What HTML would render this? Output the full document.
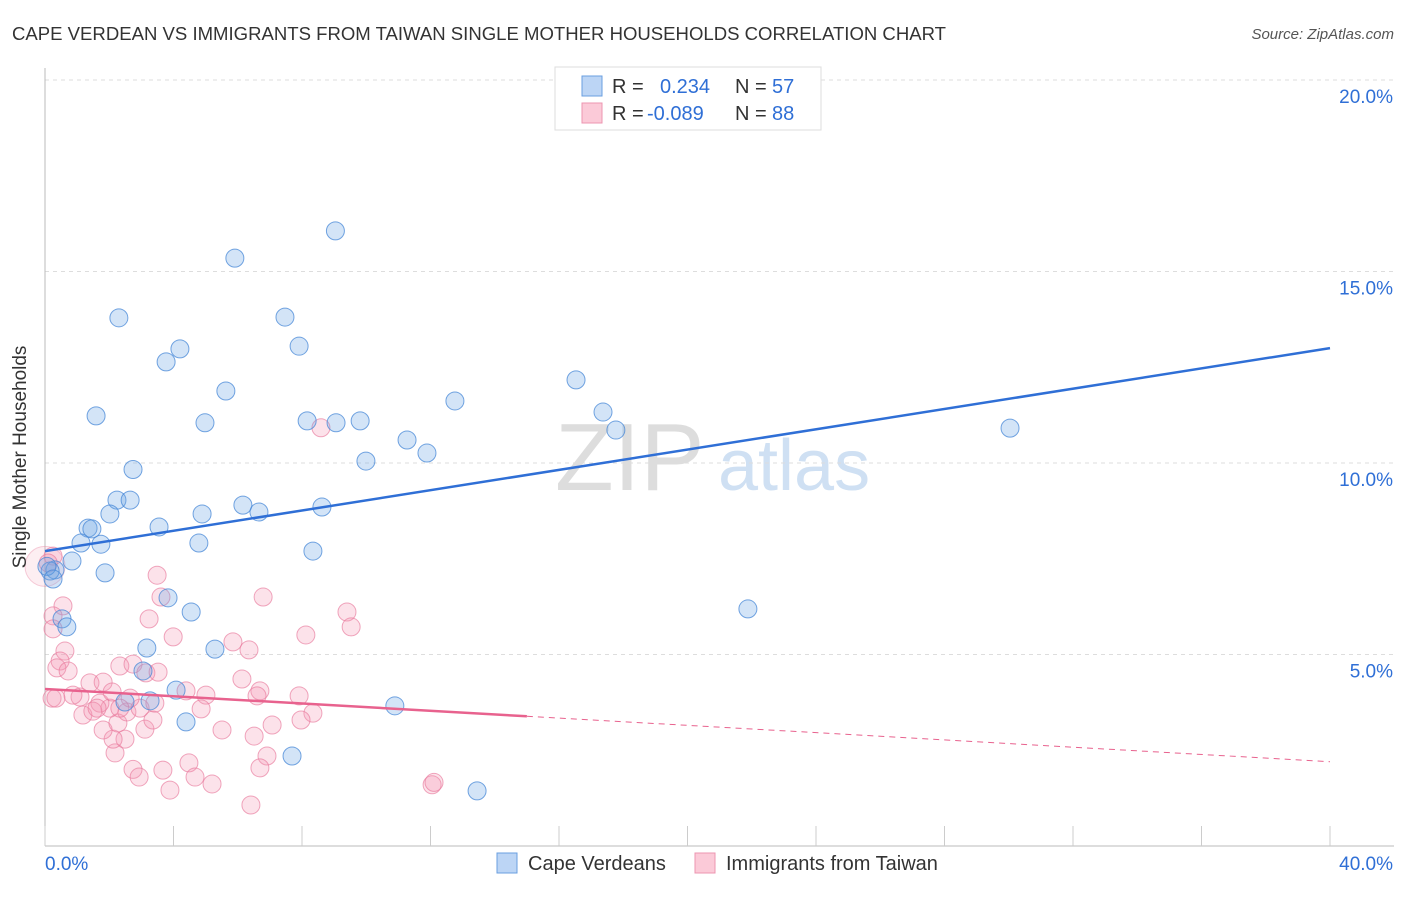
<!DOCTYPE html>
<html><head><meta charset="utf-8"><style>
body{margin:0;background:#fff;font-family:"Liberation Sans",sans-serif;}
svg text{font-family:"Liberation Sans",sans-serif;}
</style></head><body>
<svg id="chart" width="1406" height="892" xmlns="http://www.w3.org/2000/svg">
<text x="12" y="40" font-size="18" fill="#333" textLength="934" lengthAdjust="spacingAndGlyphs">CAPE VERDEAN VS IMMIGRANTS FROM TAIWAN SINGLE MOTHER HOUSEHOLDS CORRELATION CHART</text>
<text x="1394" y="39" font-size="15" fill="#555" font-style="italic" text-anchor="end">Source: ZipAtlas.com</text>
<text x="555" y="490" font-size="96" fill="#ddd" font-family="Liberation Serif">ZIP</text>
<text x="718" y="490" font-size="72" fill="#cfe0f3">atlas</text>
<g id="grid"></g><g id="axes"></g><g id="pts"></g><g id="lines"></g>
<text x="26" y="457" font-size="19" fill="#333" transform="rotate(-90 26 457)" text-anchor="middle">Single Mother Households</text>
<g>
<rect x="555" y="67" width="266" height="63" fill="#fff" stroke="#ddd"/>
<rect x="582" y="76" width="20" height="20" fill="#bcd5f5" stroke="#6a9fe0"/>
<rect x="582" y="103" width="20" height="20" fill="#fbcad8" stroke="#ec95b0"/>
<text x="612" y="93" font-size="20" fill="#333">R = </text><text x="660" y="93" font-size="20" fill="#2f6fd6">0.234</text>
<text x="735" y="93" font-size="20" fill="#333">N = </text><text x="772" y="93" font-size="20" fill="#2f6fd6">57</text>
<text x="612" y="120" font-size="20" fill="#333">R = </text><text x="647" y="120" font-size="20" fill="#2f6fd6">-0.089</text>
<text x="735" y="120" font-size="20" fill="#333">N = </text><text x="772" y="120" font-size="20" fill="#2f6fd6">88</text>
</g>
<g>
<rect x="497" y="853" width="20" height="20" fill="#bcd5f5" stroke="#6a9fe0"/>
<text x="528" y="870" font-size="20" fill="#333">Cape Verdeans</text>
<rect x="695" y="853" width="20" height="20" fill="#fbcad8" stroke="#ec95b0"/>
<text x="726" y="870" font-size="20" fill="#333">Immigrants from Taiwan</text>
</g>
</svg>
<script>
const yTicks=[5,10,15,20];
const xTickLabels=["0.0%","40.0%"];
const blueX=[9.04,5.91,2.30,7.47,4.20,3.77,7.91,5.63,1.59,4.98,8.16,9.06,9.81,12.76,16.53,17.37,17.77,11.27,11.89,9.99,30.04,2.74,2.24,2.65,2.02,6.16,4.89,6.66,8.62,3.55,1.34,1.46,1.12,1.74,4.79,8.34,0.84,0.31,0.16,1.87,3.83,4.55,0.53,0.68,3.17,5.29,3.05,4.08,3.27,2.49,4.39,10.89,7.69,13.45,21.88,0.06,0.25];
const blueY=[16.06,15.35,13.79,13.81,12.98,12.64,13.05,11.88,11.23,11.05,11.10,11.05,11.10,11.62,12.17,11.33,10.86,10.60,10.26,10.05,10.91,9.83,9.03,9.03,8.67,8.90,8.67,8.72,8.85,8.33,8.30,8.28,7.91,7.88,7.91,7.70,7.44,7.21,7.18,7.13,6.48,6.11,5.93,5.72,5.17,5.14,4.57,4.07,3.79,3.76,3.24,3.66,2.35,1.44,6.19,7.30,6.97];
const pinkX=[3.49,3.61,6.79,9.40,9.53,3.24,3.99,8.12,5.85,6.35,2.33,2.74,3.14,3.52,6.13,6.69,6.60,7.91,8.34,7.97,4.39,5.01,4.86,5.51,6.51,7.07,6.91,6.69,4.48,3.67,4.67,5.20,3.89,6.41,2.74,2.93,2.18,2.49,2.12,1.81,2.27,3.11,3.36,2.55,2.02,1.71,1.18,1.09,1.40,1.81,2.09,0.62,0.47,0.37,0.72,0.56,0.25,0.25,0.25,0.22,2.96,2.65,3.42,0.87,1.49,1.62,2.33,8.59,12.05,12.11,0.10,0.34];
const pinkY=[7.07,6.50,6.50,6.11,5.72,5.93,5.46,5.51,5.33,5.12,4.70,4.75,4.52,4.54,4.36,4.05,3.92,3.92,3.47,3.29,4.05,3.94,3.58,3.03,2.87,3.16,2.35,2.04,2.17,1.98,1.80,1.62,1.46,1.07,2.00,1.80,2.43,2.79,2.79,3.03,3.21,3.05,3.29,3.50,3.60,3.73,3.42,3.89,4.26,4.28,4.02,5.09,4.83,4.65,4.57,6.27,6.01,5.67,7.57,3.86,3.60,3.86,3.73,3.94,3.52,3.60,3.60,10.92,1.60,1.66,7.39,3.86];
const blueLine=[7.7,13.0];const pinkLine=[4.1,2.2];const pinkSolidEnd=15;
const X=v=>45+v*32.125, Y=v=>846-v*38.3;
const NS="http://www.w3.org/2000/svg";
function mk(t,a,p){const e=document.createElementNS(NS,t);for(const k in a)e.setAttribute(k,a[k]);document.getElementById(p).appendChild(e);return e;}
yTicks.forEach(v=>{
 const l=mk('line',{x1:45,x2:1394,y1:Y(v),y2:Y(v),stroke:'#ddd','stroke-dasharray':'4,4'},'grid');
 
 
 const t=mk('text',{x:1393,y:Y(v)+23,'font-size':19,fill:'#2f6fd6','text-anchor':'end'},'axes');t.textContent=v.toFixed(1)+'%';
 
 
});
mk('line',{x1:45,x2:45,y1:68,y2:846,stroke:'#bbb'},'axes');
mk('line',{x1:45,x2:1394,y1:846,y2:846,stroke:'#bbb'},'axes');
for(let i=0;i<=10;i++){const x=X(i*4);mk('line',{x1:x,x2:x,y1:826,y2:846,stroke:'#ccc'},'axes');}
xTickLabels.forEach((s,i)=>{const t=mk('text',{x:i?1393:45,y:870,'font-size':19,fill:'#2f6fd6','text-anchor':i?'end':'start'},'axes');t.textContent=s;
 
 });
mk('circle',{cx:45,cy:Y(7.3),r:20,fill:'rgba(240,140,170,0.15)',stroke:'rgba(232,130,160,0.4)'},'pts');
pinkX.forEach((v,i)=>{const c=mk('circle',{cx:X(v),cy:Y(pinkY[i]),r:9,fill:'rgba(245,150,180,0.28)',stroke:'rgba(232,120,155,0.65)'},'pts');
 
 });
blueX.forEach((v,i)=>{const c=mk('circle',{cx:X(v),cy:Y(blueY[i]),r:9,fill:'rgba(110,165,230,0.3)',stroke:'rgba(70,135,215,0.75)'},'pts');
 
 });
const bl=mk('line',{x1:X(0),y1:Y(blueLine[0]),x2:X(40),y2:Y(blueLine[1]),stroke:'#2f6fd6','stroke-width':2.5},'lines');


const py=v=>pinkLine[0]+(pinkLine[1]-pinkLine[0])*v/40;
const pl=mk('line',{x1:X(0),y1:Y(py(0)),x2:X(pinkSolidEnd),y2:Y(py(pinkSolidEnd)),stroke:'#e8628e','stroke-width':2.5},'lines');


const pd=mk('line',{x1:X(pinkSolidEnd),y1:Y(py(pinkSolidEnd)),x2:X(40),y2:Y(py(40)),stroke:'#e8628e','stroke-width':1,'stroke-dasharray':'6,5'},'lines');


</script>
</body></html>
